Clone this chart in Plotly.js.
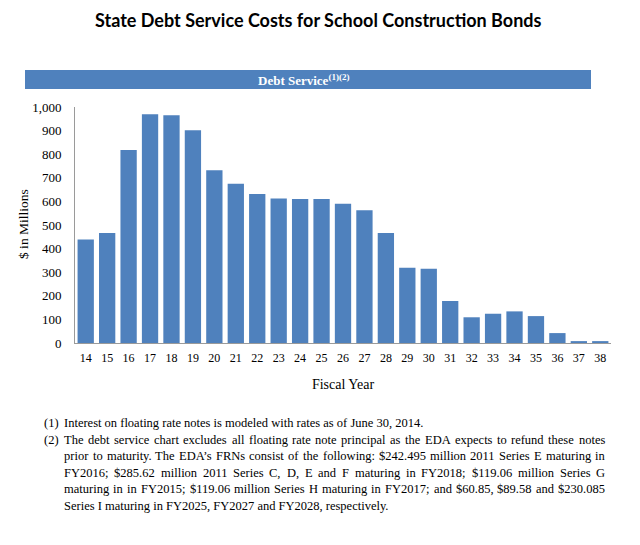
<!DOCTYPE html>
<html>
<head>
<meta charset="utf-8">
<script src="https://cdn.plot.ly/plotly-3.0.1.min.js"></script>
<style>
html,body{margin:0;padding:0;background:#fff;}
#chart{width:640px;height:545px;}
</style>
</head>
<body>
<div id="chart"></div>
<script>
// ---- data ----
const fiscalYears = ["14","15","16","17","18","19","20","21","22","23","24","25","26","27","28","29","30","31","32","33","34","35","36","37","38"];
const debtService = [439,466,818,969,965,901,732,675,631,612,610,610,590,562,466,319,315,178,109,124,134,114,42,8,8];

const chartTitle = "State Debt Service Costs for School Construction Bonds";
const headerText = "Debt Service<sup>(1)(2)</sup>";
const yTitle = "$ in Millions";
const xTitle = "Fiscal Year";
const footnoteMarks = ["(1)", "(2)"];
const footnoteLines = [
  ["Interest on floating rate notes is modeled with rates as of June 30, 2014.", false],
  ["The debt service chart excludes all floating rate note principal as the EDA expects to refund these notes", true],
  ["prior to maturity.  The EDA\u2019s FRNs consist of the following: $242.495 million 2011 Series E maturing in", true],
  ["FY2016; $285.62 million 2011 Series C, D, E and F maturing in FY2018; $119.06 million Series G", true],
  ["maturing in in FY2015; $119.06 million Series H maturing in FY2017; and $60.85, $89.58 and $230.085", true],
  ["Series I maturing in FY2025, FY2027 and FY2028, respectively.", false]
];
const footnoteMarkLine = [0, 1];

// ---- layout geometry (pixels) ----
const W = 640, H = 545;
const plotL = 75, plotR = 611, plotT = 107, plotB = 343;
const pw = plotR - plotL, ph = plotB - plotT;
const px = x => (x - plotL) / pw;
const py = y => (plotB - y) / ph;

const serif = "Liberation Serif, Times New Roman, serif";
const noteSize = 12.5;
const blue = "#4F81BD";
const esc = s => s.replace(/\$/g, "&#36;");

const annotations = [];
annotations.push({
  text: "<b>" + chartTitle + "</b>", xref: "paper", yref: "paper",
  x: px(318), y: py(20), xanchor: "center", yanchor: "middle", showarrow: false,
  font: {family: "Lato, Open Sans, sans-serif", size: 18, color: "#000"}
});
annotations.push({
  text: "<b>" + headerText + "</b>", xref: "paper", yref: "paper",
  x: px(304), y: py(80), xanchor: "center", yanchor: "middle", showarrow: false,
  font: {family: serif, size: 13, color: "#fff"}
});
annotations.push({
  text: esc(yTitle), xref: "paper", yref: "paper", textangle: -90,
  x: px(23), y: py(224), xanchor: "center", yanchor: "middle", showarrow: false,
  font: {family: serif, size: 13.5, color: "#000"}
});

// footnotes, justified using measured word widths
const ctx = document.createElement("canvas").getContext("2d");
ctx.font = noteSize + "px 'Liberation Serif'";
const textL = 62, textR = 603, markL = 42;
const lineY = [423, 439.5, 456, 472.5, 489, 505.5];
footnoteMarks.forEach((m, i) => {
  annotations.push({text: m, xref: "paper", yref: "paper", x: px(markL), y: py(lineY[footnoteMarkLine[i]]),
    xanchor: "left", yanchor: "middle", showarrow: false, font: {family: serif, size: noteSize, color: "#000"}});
});
footnoteLines.forEach(([line, justify], i) => {
  if (!justify) {
    annotations.push({text: esc(line), xref: "paper", yref: "paper", x: px(textL), y: py(lineY[i]),
      xanchor: "left", yanchor: "middle", showarrow: false, font: {family: serif, size: noteSize, color: "#000"}});
    return;
  }
  const words = line.split(/\s+/).filter(w => w.length);
  const widths = words.map(w => ctx.measureText(w).width);
  const total = widths.reduce((a, b) => a + b, 0);
  const gap = (textR - textL - total) / (words.length - 1);
  let x = textL;
  words.forEach((w, k) => {
    annotations.push({text: esc(w), xref: "paper", yref: "paper", x: px(x), y: py(lineY[i]),
      xanchor: "left", yanchor: "middle", showarrow: false, font: {family: serif, size: noteSize, color: "#000"}});
    x += widths[k] + gap;
  });
});

const shapes = [{
  type: "rect", xref: "paper", yref: "paper",
  x0: px(25), x1: px(591), y0: py(89), y1: py(70),
  fillcolor: blue, line: {width: 0}, layer: "below"
}];

const trace = {
  type: "bar", x: fiscalYears, y: debtService,
  marker: {color: blue, line: {width: 0}},
  hoverinfo: "x+y"
};

const layout = {
  width: W, height: H,
  margin: {l: plotL, r: W - plotR, t: plotT, b: H - plotB, pad: 0},
  paper_bgcolor: "#fff", plot_bgcolor: "#fff",
  showlegend: false,
  bargap: 0.24,
  font: {family: serif, color: "#000"},
  xaxis: {
    type: "category", showgrid: false, zeroline: false,
    showline: true, linecolor: "#9a9a9a", linewidth: 1,
    ticks: "", tickfont: {family: serif, size: 12, color: "#000"},
    ticklabelstandoff: 4,
    title: {text: xTitle, font: {family: serif, size: 14, color: "#000"}, standoff: 14},
    automargin: false, fixedrange: true
  },
  yaxis: {
    range: [0, 1000], dtick: 100, tickformat: ",d",
    showgrid: false, zeroline: false,
    showline: true, linecolor: "#9a9a9a", linewidth: 1,
    ticks: "", tickfont: {family: serif, size: 13, color: "#000"},
    ticklabelstandoff: 10,
    automargin: false, fixedrange: true
  },
  annotations: annotations,
  shapes: shapes
};

Plotly.newPlot("chart", [trace], layout, {staticPlot: true, displayModeBar: false});
</script>
</body>
</html>
